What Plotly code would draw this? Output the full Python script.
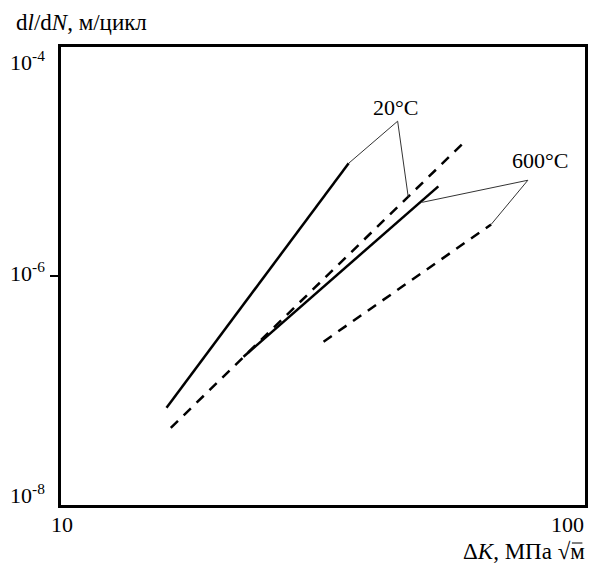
import math
import plotly.graph_objects as go

# Data
solid20_x = [15.9, 35.4]
solid20_y = [7.06e-8, 9.65e-6]
dash20_x = [16.2, 59.3]
dash20_y = [4.72e-8, 1.53e-5]
solid600_x = [22.3, 52.5]
solid600_y = [1.97e-7, 6.07e-6]
dash600_x = [31.7, 66.2]
dash600_y = [2.67e-7, 2.82e-6]

lead20_x = [35.4, 43.9, 46.0]
lead20_y = [9.65e-6, 2.25e-5, 4.86e-6]
lead600_x = [48.9, 77.8, 66.2]
lead600_y = [4.4e-6, 6.86e-6, 2.82e-6]

label20 = ("20°C", 43.5, 2.98e-5)
label600 = ("600°C", 82.0, 1.03e-5)

x_tickvals = [10, 100]
x_ticktext = ["10", "100"]
y_tickvals = [1e-8, 1e-6, 1e-4]
y_ticktext = ["10<sup>-8</sup>", "10<sup>-6</sup>", "10<sup>-4</sup>"]

FONT = "Liberation Serif"
lg = math.log10

fig = go.Figure()
lw = 2.5
fig.add_trace(go.Scatter(x=solid20_x, y=solid20_y, mode="lines",
                         line=dict(color="black", width=lw)))
fig.add_trace(go.Scatter(x=dash20_x, y=dash20_y, mode="lines",
                         line=dict(color="black", width=lw, dash="10px,8px")))
fig.add_trace(go.Scatter(x=solid600_x, y=solid600_y, mode="lines",
                         line=dict(color="black", width=lw)))
fig.add_trace(go.Scatter(x=dash600_x, y=dash600_y, mode="lines",
                         line=dict(color="black", width=lw, dash="10px,8px")))
fig.add_trace(go.Scatter(x=lead20_x, y=lead20_y, mode="lines",
                         line=dict(color="#333333", width=1)))
fig.add_trace(go.Scatter(x=lead600_x, y=lead600_y, mode="lines",
                         line=dict(color="#333333", width=1)))

for txt, lx, ly in [label20, label600]:
    fig.add_annotation(x=lg(lx), y=lg(ly), xref="x", yref="y", text=txt, showarrow=False,
                       font=dict(family=FONT, size=22, color="black"))

# y tick labels (placed as in the reference: nudged inward at the ends)
y_shifts = [11, 4, -14]
for val, txt, ys in zip(y_tickvals, y_ticktext, y_shifts):
    fig.add_annotation(x=0, y=lg(val), xref="paper", yref="y", xanchor="right",
                       yanchor="middle", xshift=-14, yshift=ys, text=txt,
                       showarrow=False, font=dict(family=FONT, size=22, color="black"))

# x tick labels
x_anchors = ["center", "right"]
for val, txt, anc in zip(x_tickvals, x_ticktext, x_anchors):
    fig.add_annotation(x=lg(val), y=0, xref="x", yref="paper", xanchor=anc,
                       yanchor="top", yshift=-5, xshift=(1 if anc == "center" else 1),
                       text=txt, showarrow=False,
                       font=dict(family=FONT, size=22, color="black"))

fig.add_annotation(x=0, y=1, xref="paper", yref="paper", xanchor="left", yanchor="bottom",
                   xshift=-47, yshift=10,
                   text="d<i>l</i>/d<i>N</i>, м/цикл", showarrow=False,
                   font=dict(family=FONT, size=23, color="black"))
fig.add_annotation(x=1, y=0, xref="paper", yref="paper", xanchor="right", yanchor="top",
                   xshift=2, yshift=-32,
                   text="Δ<i>K</i>, МПа √м", showarrow=False,
                   font=dict(family=FONT, size=23, color="black"))
# overline of the square-root sign
fig.add_shape(type="line", xref="paper", yref="paper",
              x0=0.975, x1=0.995, y0=-0.083, y1=-0.083,
              line=dict(color="black", width=1))

fig.update_xaxes(type="log", range=[1, 2], showticklabels=False,
                 showgrid=False, zeroline=False, showline=True, linecolor="black",
                 linewidth=2.5, mirror=True, ticks="")
fig.update_yaxes(type="log", range=[-8, -4], tickvals=[1e-6], showticklabels=False,
                 showgrid=False, zeroline=False, showline=True, linecolor="black",
                 linewidth=2.5, mirror=True, ticks="outside", ticklen=8, tickwidth=2,
                 tickcolor="black")

fig.update_layout(width=591, height=570, showlegend=False,
                  plot_bgcolor="white", paper_bgcolor="white",
                  margin=dict(l=61, r=3, t=47, b=65),
                  font=dict(family=FONT, color="black"))

fig.write_html("out.html", config={"displayModeBar": False},
               post_script="document.body.style.margin='0px';")
